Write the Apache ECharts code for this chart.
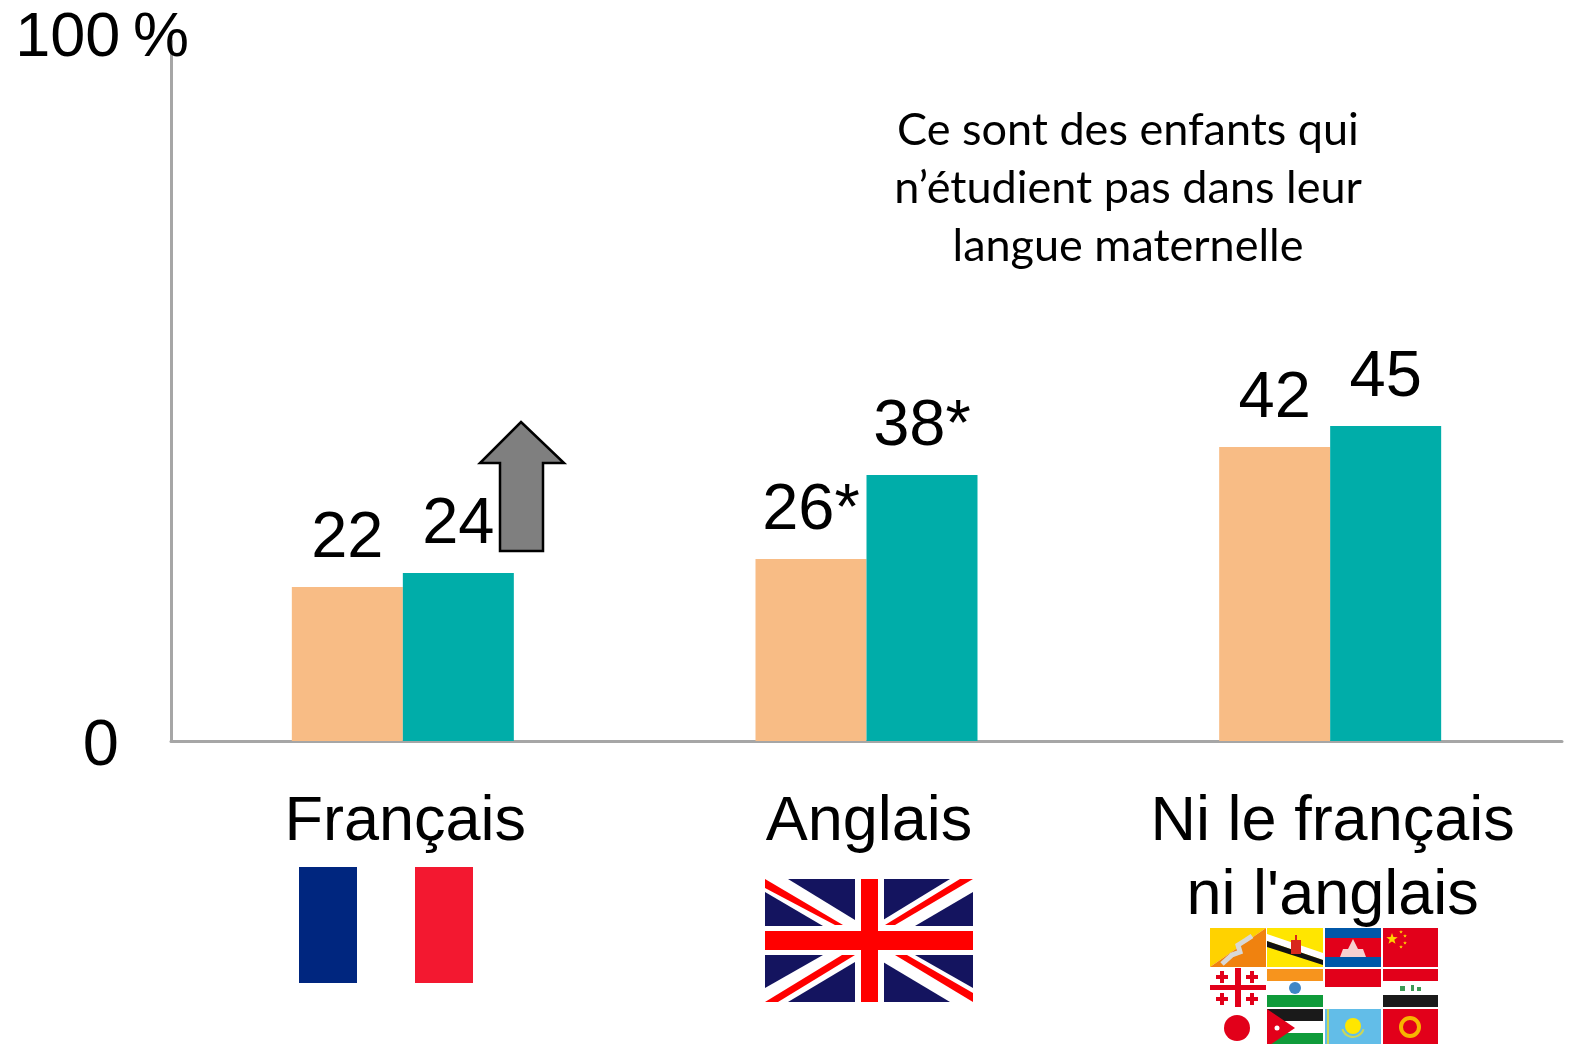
<!DOCTYPE html>
<html><head><meta charset="utf-8">
<style>html,body{margin:0;padding:0;background:#fff}#c{width:1572px;height:1044px}</style>
<script src="https://cdn.jsdelivr.net/npm/echarts@6/dist/echarts.min.js"></script>
</head><body><div id="c"></div>
<script>
const categories = ['Français', 'Anglais', "Ni le français\nni l'anglais"];
const seriesA = [22, 26, 42];
const seriesB = [24, 38, 45];
const labelsA = ['22', '26*', '42'];
const labelsB = ['24', '38*', '45'];
const noteLines = ['Ce sont des enfants qui', 'n’étudient pas dans leur', 'langue maternelle'];

const SANS = '"Liberation Sans", Arial, sans-serif';
const R = (x0, y0, x1, y1, fill) => ({type:'rect', silent:true, shape:{x:x0, y:y0, width:x1-x0, height:y1-y0}, style:{fill}});
const P = (points, fill) => ({type:'polygon', silent:true, shape:{points}, style:{fill}});
const C = (cx, cy, r, fill, stroke, lw) => ({type:'circle', silent:true, shape:{cx, cy, r}, style:{fill, stroke, lineWidth:lw||0}});
const star = (cx, cy, r, fill) => {
  const pts = [];
  for (let i = 0; i < 10; i++) {
    const a = -Math.PI/2 + i*Math.PI/5, q = i%2 ? r*0.4 : r;
    pts.push([cx + q*Math.cos(a), cy + q*Math.sin(a)]);
  }
  return P(pts, fill);
};
const smallCross = (cx, cy, fill) => [R(cx-2,cy-6,cx+2,cy+6,fill), R(cx-6,cy-2,cx+6,cy+2,fill)];

const NAVY='#14145f', RED='#ff0000', W='#ffffff', GE='#e2001a';
const deco = [
  // axis top stub
  {type:'line', silent:true, shape:{x1:171,y1:37,x2:171,y2:41}, style:{stroke:'#a6a6a6',lineWidth:3}},
  // arrow
  {type:'polygon', silent:true, z:5, shape:{points:[[521,422],[564,463],[543,463],[543,551],[500,551],[500,463],[480,463]]}, style:{fill:'#7f7f7f',stroke:'#000',lineWidth:2.5}},
  // France
  R(299,867,357,983,'#00267f'), R(415,867,473,983,'#f31830'),
  // UK
  R(765,879,973,1002,NAVY),
  P([[765,879],[788,879],[855,920],[855,926],[823,926],[765,892]],W),
  P([[973,879],[950,879],[883,920],[883,926],[915,926],[973,892]],W),
  P([[765,1002],[788,1002],[855,962],[855,955],[823,955],[765,988]],W),
  P([[973,1002],[950,1002],[883,962],[883,955],[915,955],[973,988]],W),
  P([[765,879],[843,925],[835,925],[765,888]],RED),
  P([[960,879],[973,879],[895,925],[885,925]],RED),
  P([[765,1002],[778,1002],[855,955],[842,955]],RED),
  P([[895,955],[907,955],[973,993],[973,1002]],RED),
  R(855,879,884,1002,W), R(765,926,973,955,W),
  R(861,879,878,1002,RED), R(765,931,973,950,RED),
  // Bhutan
  P([[1210,928],[1266,928],[1210,967]],'#ffd200'), P([[1266,928],[1266,967],[1210,967]],'#f0820f'),
  {type:'polyline', silent:true, shape:{points:[[1222,964],[1232,955],[1240,952],[1238,945],[1246,940],[1252,936]]}, style:{stroke:'#d8d8d8',lineWidth:5,fill:null}},
  // Brunei
  R(1267,928,1323,967,'#ffe600'),
  P([[1267,934],[1323,953],[1323,960],[1267,941]],W),
  P([[1267,941],[1323,960],[1323,965],[1267,947]],'#111'),
  R(1291,940,1301,954,'#d8281c'), R(1295,935,1297,941,'#d8281c'),
  // Cambodia
  R(1325,928,1381,967,GE), R(1325,928,1381,938,'#0057a8'), R(1325,957,1381,967,'#0057a8'),
  P([[1340,957],[1343,949],[1348,949],[1353,939],[1358,949],[1363,949],[1366,957]],'#f7d0d0'),
  // China
  R(1383,928,1438,967,GE), star(1392,939,6,'#ffd200'),
  star(1401,932,2,'#ffd200'), star(1405,936,2,'#ffd200'), star(1405,943,2,'#ffd200'), star(1401,947,2,'#ffd200'),
  // Georgia
  R(1235,968,1241,1007,GE), R(1210,985,1266,990,GE),
  ...smallCross(1222,977,GE), ...smallCross(1252,977,GE), ...smallCross(1222,999,GE), ...smallCross(1252,999,GE),
  // India
  R(1267,969,1323,981,'#f7941d'), R(1267,995,1323,1007,'#0f9b3a'), C(1295,988,6,'#3f86c6'),
  // Indonesia
  R(1325,969,1381,987,GE),
  // Iraq
  R(1383,969,1438,981,GE), R(1383,995,1438,1007,'#1a1a1a'),
  R(1400,986,1405,991,'#3c9a55'), R(1411,985,1414,991,'#3c9a55'), R(1417,987,1421,991,'#3c9a55'),
  // Japan
  C(1237,1028,13,GE),
  // Jordan
  R(1267,1009,1323,1021,'#1a1a1a'), R(1267,1033,1323,1044,'#0f9b3a'),
  P([[1267,1009],[1295,1028],[1267,1047]],GE), C(1277,1028,2.5,W),
  // Kazakhstan
  R(1325,1009,1381,1044,'#62bde8'), C(1353,1026,8,'#ffe600'),
  {type:'arc', silent:true, shape:{cx:1353,cy:1026,r:11,startAngle:0.3,endAngle:2.85}, style:{stroke:'#c9d65a',lineWidth:2,fill:null}},
  R(1327,1009,1329,1044,'#c9d65a'),
  // Kyrgyzstan
  R(1383,1009,1438,1044,GE), C(1410,1027,9,GE,'#f7b500',4),
  // Note
  ...noteLines.map((t,i)=>({type:'text', silent:true, x:1128, y:130+i*58,
    style:{text:t, fill:'#000', font:'45px Lato, sans-serif', align:'center', verticalAlign:'middle'}}))
];

const chart = echarts.init(document.getElementById('c'), null, {renderer:'canvas'});
const barLabel = (labels) => ({
  show:true, position:'top', distance:15, color:'#000',
  fontFamily:SANS, fontSize:65,
  formatter:(p)=>labels[p.dataIndex]
});
chart.setOption({
  animation:false,
  backgroundColor:'#fff',
  grid:{left:171, top:41, width:1391, height:700, containLabel:false},
  xAxis:{
    type:'category', data:categories,
    axisLine:{lineStyle:{color:'#a6a6a6',width:3}},
    axisTick:{show:false},
    axisLabel:{interval:0, margin:45, color:'#000', fontFamily:SANS, fontSize:63, lineHeight:74, padding:[0,0,0,5]}
  },
  yAxis:{
    type:'value', min:0, max:100, interval:100,
    splitLine:{show:false},
    axisTick:{show:false},
    axisLine:{show:true, lineStyle:{color:'#a6a6a6',width:3}},
    axisLabel:{
      margin:-18, align:'right', color:'#000',
      formatter:(v)=> v===0 ? '{z|0}' : '{h|100\u2009%}',
      rich:{
        z:{fontFamily:SANS, fontSize:65, color:'#000', padding:[12,70,0,0]},
        h:{fontFamily:SANS, fontSize:63, color:'#000', padding:[0,0,5,0]}
      }
    }
  },
  series:[
    {name:'A', type:'bar', data:seriesA, barWidth:111, barGap:0, itemStyle:{color:'#f8bc85'}, label:barLabel(labelsA), z:2},
    {name:'B', type:'bar', data:seriesB, barWidth:111, barGap:0, itemStyle:{color:'#00ada9'}, label:barLabel(labelsB), z:2}
  ],
  graphic:{elements:deco}
});
</script></body></html>
